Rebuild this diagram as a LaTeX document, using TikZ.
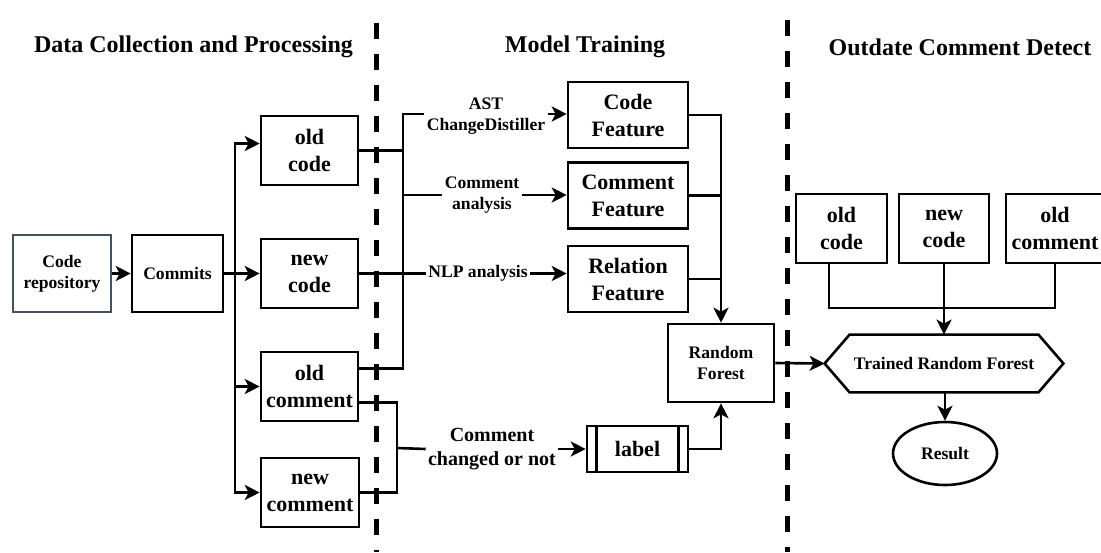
\documentclass[tikz,border=0pt]{standalone}
\usepackage{fontspec}
\setmainfont{Liberation Serif}
\usetikzlibrary{arrows.meta}
\usetikzlibrary{shapes.geometric}
\newcommand{\titletxt}{\fontsize{12}{14}\selectfont\bfseries}
\newcommand{\bigtxt}{\fontsize{11}{13.5}\selectfont\bfseries}
\newcommand{\midtxt}{\fontsize{10}{12}\selectfont\bfseries}
\newcommand{\smalltxt}{\fontsize{8.8}{10.3}\selectfont\bfseries}
\definecolor{repoborder}{RGB}{70,80,95}
\tikzset{
  box/.style={draw, line width=1.3pt, inner sep=0pt, align=center, font=\bigtxt, minimum width=48.5pt, minimum height=34.5pt},
  featbox/.style={box, minimum width=60pt, minimum height=33pt},
  smallbox/.style={box, font=\smalltxt, minimum height=38.5pt},
  lbltxt/.style={fill=white, inner sep=1pt, align=center, font=\smalltxt},
  conn/.style={line width=1.3pt},
  arr/.style={conn, -{Stealth[length=7.5pt,width=7.5pt,inset=2pt]}},
  sepline/.style={line width=2.5pt, dash pattern=on 8pt off 7.5pt},
  title/.style={font=\titletxt}
}
\begin{document}
\begin{tikzpicture}[x=0.5pt,y=-0.5pt]
        \useasboundingbox (0,0) rectangle (1101,552);

        % titles and separators
        \node[title] (t1) at (193.5,47) {Data Collection and Processing};
        \node[title] (t2) at (585,47) {Model Training};
        \node[title] (t3) at (960,47) {Outdate Comment Detect};
        \draw[sepline] (376,23) -- (376,552);
        \draw[sepline] (787,20) -- (787,552);

        % data collection
        \node[smallbox, draw=repoborder, minimum width=49pt] (repo) at (62,273.5) {Code\\repository};
        \node[smallbox, minimum width=45.5pt] (commits) at (177.5,273.5) {Commits};
        \node[box] (oldcode) at (309.5,150.5) {old\\code};
        \node[box] (newcode) at (309.5,273.5) {new\\code};
        \node[box] (oldcm) at (309.5,386.5) {old\\comment};
        \node[box, minimum width=49pt] (newcm) at (310,492.5) {new\\comment};

        \coordinate (split) at (235,273.5);
        \draw[arr] (repo) -- (commits);
        \draw[arr] (commits) -- (newcode);
        \draw[arr] (split) |- ([yshift=3.5pt]oldcode.west);
        \draw[arr] (split) |- (oldcm.west);
        \draw[arr] (split) |- (newcm.west);

        % model training
        \node[featbox] (codefeat) at (628,115) {Code\\Feature};
        \node[featbox] (cmfeat) at (628,195.5) {Comment\\Feature};
        \node[featbox] (relfeat) at (628,279) {Relation\\Feature};
        \node[box, font=\smalltxt, minimum width=53pt, minimum height=39pt] (rf) at (721,363) {Random\\Forest};
        \node[box, minimum width=50.5pt, minimum height=23pt] (lbl) at (637.5,449) {label};
        \draw[conn] ([xshift=5.5pt]lbl.north west) -- ([xshift=5.5pt]lbl.south west);
        \draw[conn] ([xshift=-5.5pt]lbl.north east) -- ([xshift=-5.5pt]lbl.south east);

        \node[lbltxt] (ast) at (486,116) {AST\\ChangeDistiller};
        \node[lbltxt] (cmana) at (482,195) {Comment\\analysis};
        \node[lbltxt] (nlp) at (478,273.5) {NLP analysis};
        \node[lbltxt, font=\midtxt] (chg) at (492,449) {Comment\\changed or not};

        \coordinate (jtop) at (403,114);
        \coordinate (bk) at (397,448);
        \draw[conn] ([yshift=9pt]oldcm.east) -| (jtop) -- (jtop -| ast.west);
        \draw[arr] (jtop -| ast.east) -- (jtop -| codefeat.west);
        \draw[conn] (oldcode.east) -- (oldcode.east -| jtop);
        \draw[conn] (cmana.west -| jtop) -- (cmana.west);
        \draw[arr] (cmana.east) -- (cmana.east -| cmfeat.west);
        \draw[conn] (newcode.east) -- (nlp.west);
        \draw[arr] (nlp.east) -- (nlp.east -| relfeat.west);
        \draw[conn] ([yshift=-8pt]oldcm.east) -| (bk |- newcm.east) -- (newcm.east);
        \draw[conn] (bk) -- (chg.west);
        \draw[arr] (chg.east) -- (chg.east -| lbl.west);

        \draw[arr] (codefeat.east) -| (rf.north);
        \draw[conn] (cmfeat.east) -- (cmfeat.east -| rf.north);
        \draw[conn] (relfeat.east) -- (relfeat.east -| rf.north);
        \draw[arr] (lbl.east) -| (rf.south);

        % detection
        \node[box, minimum width=45.5pt] (oc2) at (841.5,228.5) {old\\code};
        \node[box, minimum width=45pt] (nc2) at (944,228.5) {new\\code};
        \node[box, minimum width=49pt] (ocm2) at (1055,228.5) {old\\comment};
        \node[inner sep=0pt, font=\smalltxt, minimum width=119pt, minimum height=28.5pt] (trf) at (944,363.5) {Trained Random Forest};
        \draw[conn] (trf.west) -- ([xshift=12.5pt]trf.north west) -- ([xshift=-12.5pt]trf.north east) -- (trf.east)
              -- ([xshift=-12.5pt]trf.south east) -- ([xshift=12.5pt]trf.south west) -- cycle;
        \node[ellipse, draw, line width=1.3pt, inner sep=0pt, font=\smalltxt, minimum width=52pt, minimum height=31.5pt] (res) at (945,453.5) {Result};

        \coordinate (mrg) at (944,308);
        \draw[conn] ([xshift=-6.25pt]oc2.south) |- (mrg) -| (ocm2.south);
        \draw[arr] (nc2.south) -- (trf.north);
        \draw[arr] (rf.east) -- (trf.west);
        \draw[arr] (trf.south -| res.north) -- (res.north);

\end{tikzpicture}
\end{document}
